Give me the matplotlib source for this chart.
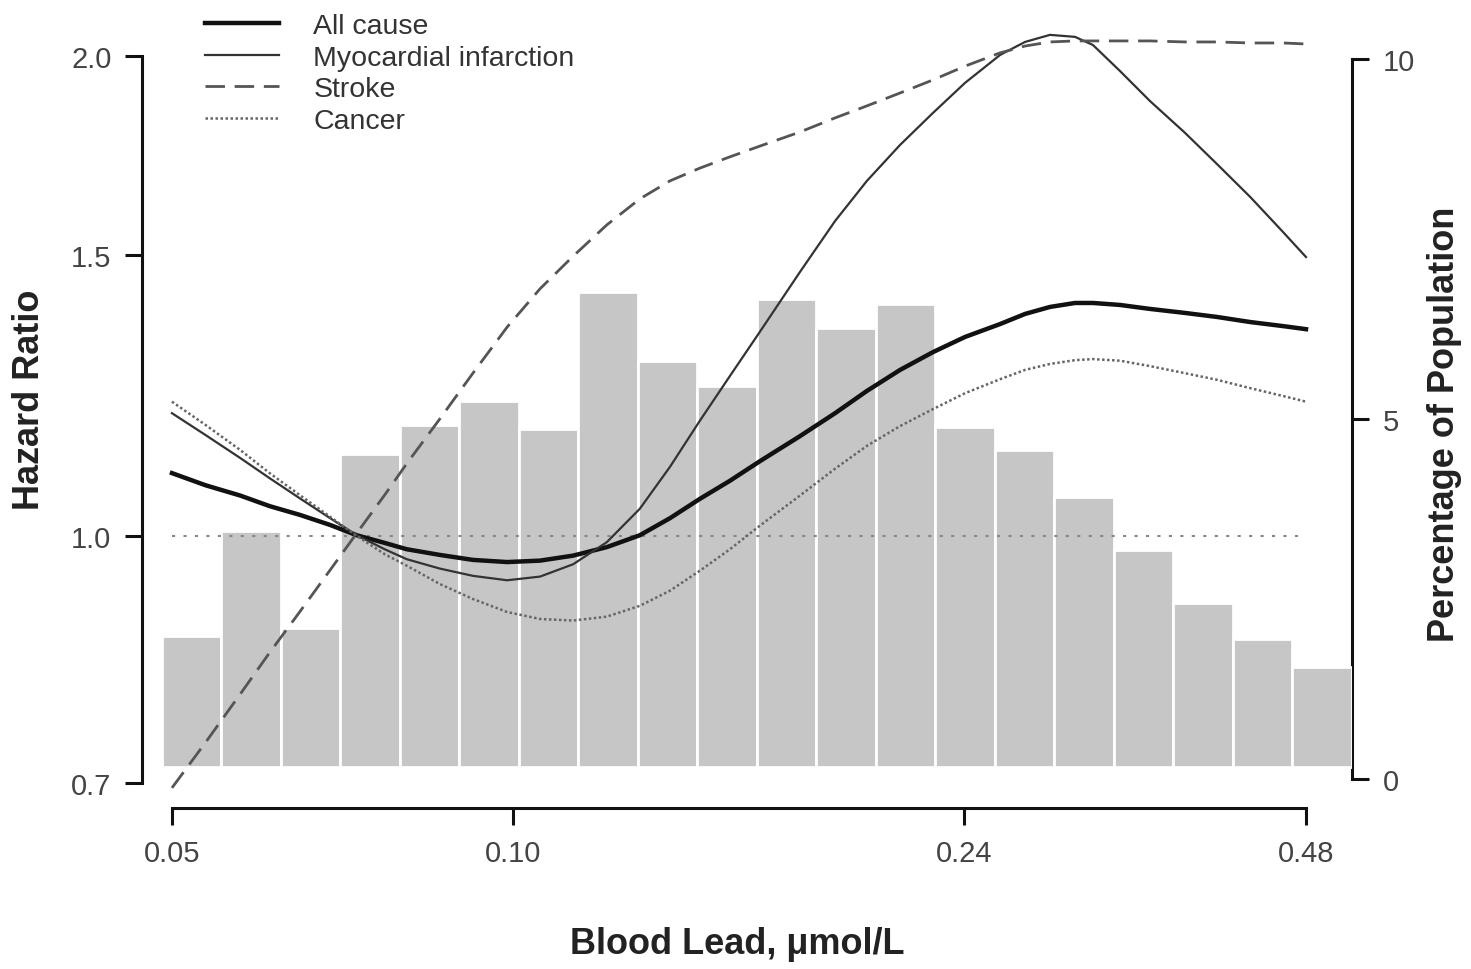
import numpy as np
import matplotlib.pyplot as plt
from matplotlib.ticker import NullLocator

plt.rcParams['font.family'] = ['Liberation Sans', 'DejaVu Sans']

# blood lead (umol/L) where the curves were read
lead = [0.0483, 0.0517, 0.0555, 0.0589, 0.0626, 0.0666, 0.0703, 0.0744, 0.0778,
        0.0832, 0.0890, 0.0954, 0.1020, 0.1091, 0.1168, 0.1249, 0.1328, 0.1411,
        0.1500, 0.1594, 0.1729, 0.1857, 0.1981, 0.2119, 0.2265, 0.2418, 0.2596,
        0.2731, 0.2873, 0.3023, 0.3135, 0.3312, 0.3520, 0.3779, 0.4033, 0.4313,
        0.4612, 0.4832]

# hazard ratios
all_cause = [1.095, 1.076, 1.060, 1.044, 1.031, 1.016, 1.001, 0.990, 0.981, 0.973,
             0.966, 0.963, 0.965, 0.972, 0.984, 1.001, 1.026, 1.055, 1.083, 1.114,
             1.155, 1.194, 1.233, 1.271, 1.304, 1.333, 1.358, 1.378, 1.392, 1.400,
             1.400, 1.396, 1.388, 1.380, 1.372, 1.362, 1.354, 1.348]
mi = [1.194, 1.157, 1.119, 1.087, 1.056, 1.026, 1.001, 0.981, 0.967, 0.954, 0.944,
      0.938, 0.943, 0.960, 0.991, 1.040, 1.105, 1.181, 1.260, 1.343, 1.464, 1.576,
      1.670, 1.759, 1.842, 1.924, 2.003, 2.041, 2.062, 2.056, 2.032, 1.957, 1.874,
      1.790, 1.711, 1.632, 1.551, 1.496]
stroke = [0.695, 0.742, 0.796, 0.845, 0.896, 0.952, 1.004, 1.061, 1.110, 1.184,
          1.265, 1.352, 1.429, 1.498, 1.567, 1.627, 1.670, 1.701, 1.729, 1.756,
          1.792, 1.829, 1.861, 1.896, 1.932, 1.971, 2.009, 2.029, 2.041, 2.044,
          2.044, 2.044, 2.044, 2.041, 2.041, 2.038, 2.038, 2.035]
cancer = [1.214, 1.174, 1.132, 1.095, 1.061, 1.028, 1.000, 0.974, 0.958, 0.933,
          0.913, 0.896, 0.887, 0.885, 0.890, 0.904, 0.924, 0.951, 0.981, 1.015,
          1.060, 1.102, 1.139, 1.172, 1.201, 1.229, 1.254, 1.271, 1.282, 1.289,
          1.291, 1.288, 1.278, 1.265, 1.253, 1.238, 1.224, 1.214]

# histogram: 20 log-spaced bins, share of population (%)
bin_lo, bin_hi = 0.0473, 0.5305
pct = [1.98, 3.45, 2.10, 4.51, 4.92, 5.25, 4.86, 6.76, 5.80, 5.46,
       6.66, 6.26, 6.60, 4.89, 4.57, 3.91, 3.18, 2.44, 1.94, 1.56]

x_ticks = [0.0483, 0.0966, 0.2415, 0.483]
x_labels = ['0.05', '0.10', '0.24', '0.48']
hr_ticks = [0.7, 1.0, 1.5, 2.0]
pct_ticks = [0, 5, 10]

fig = plt.figure(figsize=(14.71, 9.70), dpi=100)
ax = fig.add_axes([0.09653, 0.16598, 0.82257, 0.80825])   # bars, right axis
ax2 = ax.twinx()                                           # curves, left axis

edges = np.geomspace(bin_lo, bin_hi, len(pct) + 1)
bar_base = 0.17   # bars sit a little above the zero tick, as in the original
ax.bar(edges[:-1], np.array(pct) - bar_base, width=np.diff(edges), bottom=bar_base,
       align='edge', color='#c6c6c6', edgecolor='white', linewidth=2, zorder=3)

ax2.hlines(1.0, lead[0], lead[-1], color='#888888', lw=1.5, linestyles=(0, (1.5, 4)))
ax2.plot(lead, all_cause, color='#111111', lw=3.2, label='All cause')
ax2.plot(lead, mi, color='#333333', lw=1.6, label='Myocardial infarction')
ax2.plot(lead, stroke, color='#555555', lw=2, ls=(0, (7, 3.5)), label='Stroke')
ax2.plot(lead, cancer, color='#666666', lw=1.8, ls=(0, (1, 1)), label='Cancer')

ax.set_xscale('log')
ax.set_xlim(0.04545, 0.5305)
ax.set_ylim(-0.4028, 10.486)
ax2.set_yscale('log')
ax2.set_ylim(0.6751, 2.0946)

ax.xaxis.set_minor_locator(NullLocator())
ax2.yaxis.set_minor_locator(NullLocator())
ax.set_xticks(x_ticks)
ax.set_xticklabels(x_labels)
ax.set_yticks(pct_ticks)
ax.set_yticklabels([str(t) for t in pct_ticks])
ax2.set_yticks(hr_ticks)
ax2.set_yticklabels(['%.1f' % t for t in hr_ticks])

for s in ['top', 'left']:
    ax.spines[s].set_visible(False)
for s in ['top', 'right', 'bottom']:
    ax2.spines[s].set_visible(False)
ax.spines['bottom'].set_bounds(x_ticks[0], x_ticks[-1])
ax.spines['right'].set_bounds(0, 10)
ax2.spines['left'].set_bounds(0.7, 2.0)
for sp in [ax.spines['bottom'], ax.spines['right'], ax2.spines['left']]:
    sp.set_linewidth(2.2)
    sp.set_color('#111111')

ax.yaxis.tick_right()
ax2.yaxis.tick_left()
tick_kw = dict(length=12, width=2.2, color='#111111', pad=10, labelsize=21,
               labelcolor='#444444')
ax.tick_params(axis='x', **tick_kw)
ax.tick_params(axis='y', **tick_kw)
ax2.tick_params(axis='y', **tick_kw)

fig.text(30 / 1471, 1 - 400 / 970, 'Hazard Ratio', rotation=90, ha='center',
         va='center', fontsize=26, fontweight='bold', color='#222222')
fig.text(1445 / 1471, 1 - 424 / 970, 'Percentage of Population', rotation=90,
         ha='center', va='center', fontsize=26, fontweight='bold', color='#222222')
fig.text(737 / 1471, 1 - 945 / 970, 'Blood Lead, μmol/L', ha='center', va='center',
         fontsize=26, fontweight='bold', color='#222222')

leg = fig.legend(loc='upper left', bbox_to_anchor=(205 / 1471, 1 - 14 / 970),
                 frameon=False, fontsize=20.5, handlelength=2.6, handletextpad=1.2,
                 labelspacing=0.2, borderpad=0, borderaxespad=0)
for t in leg.get_texts():
    t.set_color('#333333')

fig.savefig('out.png', dpi=100)
